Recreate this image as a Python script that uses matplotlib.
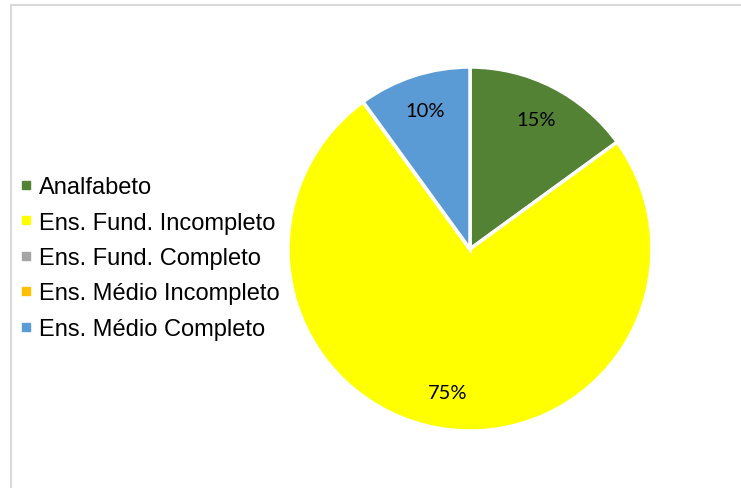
import matplotlib
matplotlib.use('agg')
import matplotlib.pyplot as plt
from matplotlib.lines import Line2D
from matplotlib.patches import Rectangle

categorias = ['Analfabeto', 'Ens. Fund. Incompleto', 'Ens. Fund. Completo',
              'Ens. Médio Incompleto', 'Ens. Médio Completo']
valores = [15, 75, 0, 0, 10]
cores = ['#548235', '#FFFF00', '#A5A5A5', '#FFC000', '#5B9BD5']


def rotulo(pct):
    if pct < 0.5:
        return ''
    return '%d%%' % round(pct)


fig = plt.figure(figsize=(7.41, 4.89), dpi=100)

# moldura cinza clara do grafico
fig.patches.append(Rectangle((11 / 741, -0.1), 1.2, (489 - 6) / 489 + 0.1,
                             transform=fig.transFigure, fill=False,
                             edgecolor='#D9D9D9', linewidth=1.5))

ax = fig.add_axes([(470 - 182) / 741, (239 - 182) / 489, 364 / 741, 364 / 489])
wedges, texts, autotexts = ax.pie(valores, colors=cores, startangle=90, counterclock=False,
                                  autopct=rotulo, pctdistance=0.8,
                                  wedgeprops=dict(edgecolor='white', linewidth=2.5))
for t in autotexts:
    t.set_fontsize(14.5)
    t.set_fontfamily('Lato')
    t.set_color('#000000')
ax.set_xlim(-1, 1)
ax.set_ylim(-1, 1)
ax.set_aspect('equal')

handles = [Line2D([], [], marker='s', linestyle='none', markersize=5.5,
                  markerfacecolor=c, markeredgecolor=c) for c in cores]
fig.legend(handles, categorias, loc='center left', bbox_to_anchor=(0 / 741, (489 - 259) / 489),
           frameon=False, handlelength=0.6, handletextpad=0.25, labelspacing=0.57,
           borderpad=0.3, prop={'family': 'Liberation Sans', 'size': 17})

plt.savefig('out.png', dpi=100)
